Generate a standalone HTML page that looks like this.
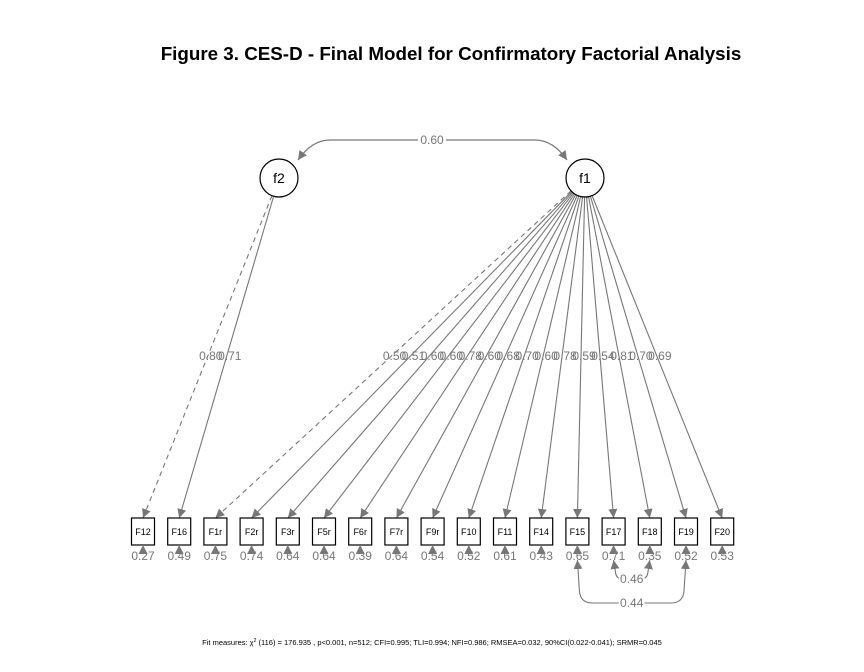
<!DOCTYPE html>
<html><head><meta charset="utf-8"><style>
body{margin:0;background:#fff;}
svg{display:block;font-family:"Liberation Sans",Arial,sans-serif;}
</style></head><body>
<svg id="c" width="864" height="672" viewBox="0 0 864 672">
<defs><marker id="ah" viewBox="0 0 10 10" refX="10" refY="5" markerWidth="9" markerHeight="9" markerUnits="userSpaceOnUse" orient="auto-start-reverse"><path d="M0,0L10,5L0,10z" fill="#777"/></marker></defs>
<text x="451" y="60" text-anchor="middle" font-size="18.8" font-weight="bold" fill="#000">Figure 3. CES-D - Final Model for Confirmatory Factorial Analysis</text>
<text x="432" y="645" text-anchor="middle" font-size="7.5" fill="#000">Fit measures: χ<tspan dy="-3" font-size="5">2</tspan><tspan dy="3"> (116) = 176.935 , p&lt;0.001, n=512; CFI=0.995; TLI=0.994; NFI=0.986; RMSEA=0.032, 90%CI(0.022-0.041); SRMR=0.045</tspan></text>
<g id="g"></g>
</svg>
<script>
const items=["F12","F16","F1r","F2r","F3r","F5r","F6r","F7r","F9r","F10","F11","F14","F15","F17","F18","F19","F20"];
const factorOf=["f2","f2","f1","f1","f1","f1","f1","f1","f1","f1","f1","f1","f1","f1","f1","f1","f1"];
const loadings=[0.80,0.71,0.50,0.51,0.60,0.60,0.78,0.60,0.68,0.70,0.60,0.78,0.59,0.54,0.81,0.70,0.69];
const residuals=[0.27,0.49,0.75,0.74,0.64,0.64,0.39,0.64,0.54,0.52,0.61,0.43,0.65,0.71,0.35,0.52,0.53];
const dashed=["F12","F1r"];
const factorCov=0.60;
const residCovPairs=[["F17","F18"],["F15","F19"]];
const residCovValues=[0.46,0.44];

const NS="http://www.w3.org/2000/svg",G=document.getElementById('g');
function el(t,a,txt){const e=document.createElementNS(NS,t);for(const k in a)e.setAttribute(k,a[k]);if(txt!=null)e.textContent=txt;G.appendChild(e);return e;}
const bx=i=>143+36.2*i, boxTop=518, boxH=27, boxW=23;
const F={f2:{x:279,y:178},f1:{x:585,y:178}}, R=19;
const fmt=v=>v.toFixed(2);

let p=el('path',{d:"M298,160 Q312,140 330,140 L535,140 Q553,140 567,160",fill:"none",stroke:"#777","stroke-width":1.2,"marker-start":"url(#ah)","marker-end":"url(#ah)"});


el('rect',{x:418,y:133,width:28,height:13,fill:"#fff"});
let t=el('text',{x:432,y:144,"text-anchor":"middle","font-size":12,fill:"#777"},fmt(factorCov));



items.forEach((it,i)=>{
 const f=F[factorOf[i]],x2=bx(i),y2=boxTop;
 const dx=x2-f.x,dy=y2-f.y,L=Math.hypot(dx,dy);
 const x1=f.x+dx/L*R,y1=f.y+dy/L*R;
 const ln=el('line',{x1,y1,x2,y2,stroke:"#777","stroke-width":1.1,"marker-end":"url(#ah)"});
 if(dashed.includes(it))ln.setAttribute('stroke-dasharray','5,4');
 
 
 const tt=(356-f.y)/(y2-f.y);
 const lb=el('text',{x:f.x+tt*dx+3,y:360,"text-anchor":"middle","font-size":12,fill:"#777"},fmt(loadings[i]));
 
 
});

items.forEach((it,i)=>{
 const x=bx(i);
 const r=el('rect',{x:x-boxW/2,y:boxTop,width:boxW,height:boxH,fill:"#fff",stroke:"#000","stroke-width":1.2});
 
 
 const tx=el('text',{x,y:boxTop+17,"text-anchor":"middle","font-size":9,fill:"#000"},it);
 
 
 const a=el('line',{x1:x,y1:boxTop+boxH+9,x2:x,y2:boxTop+boxH,stroke:"#777","stroke-width":1.1,"marker-end":"url(#ah)"});
 
 
 const rv=el('text',{x,y:560,"text-anchor":"middle","font-size":12,fill:"#777"},fmt(residuals[i]));
 
 
});

residCovPairs.forEach((pr,k)=>{
 const xa=bx(items.indexOf(pr[0])),xb=bx(items.indexOf(pr[1]));
 const yb=k===0?579:603, top=560;
 const rr=k===0?6:12;
 const pa=el('path',{d:`M${xa},${top} L${xa+2},${yb-rr} Q${xa+3},${yb} ${xa+rr+3},${yb} L${xb-rr-3},${yb} Q${xb-3},${yb} ${xb-2},${yb-rr} L${xb},${top}`,fill:"none",stroke:"#777","stroke-width":1.1,"marker-start":"url(#ah)","marker-end":"url(#ah)"});
 
 
 const mx=(xa+xb)/2;
 el('rect',{x:mx-13,y:yb-7,width:26,height:13,fill:"#fff"});
 const lb=el('text',{x:mx,y:yb+4,"text-anchor":"middle","font-size":12,fill:"#777"},fmt(residCovValues[k]));
 
 
});

for(const k in F){
 const c=el('circle',{cx:F[k].x,cy:F[k].y,r:R,fill:"#fff",stroke:"#000","stroke-width":1.2});
 
 
 const tx=el('text',{x:F[k].x,y:F[k].y+5,"text-anchor":"middle","font-size":14,fill:"#000"},k);
 
 
}
</script>
</body></html>
